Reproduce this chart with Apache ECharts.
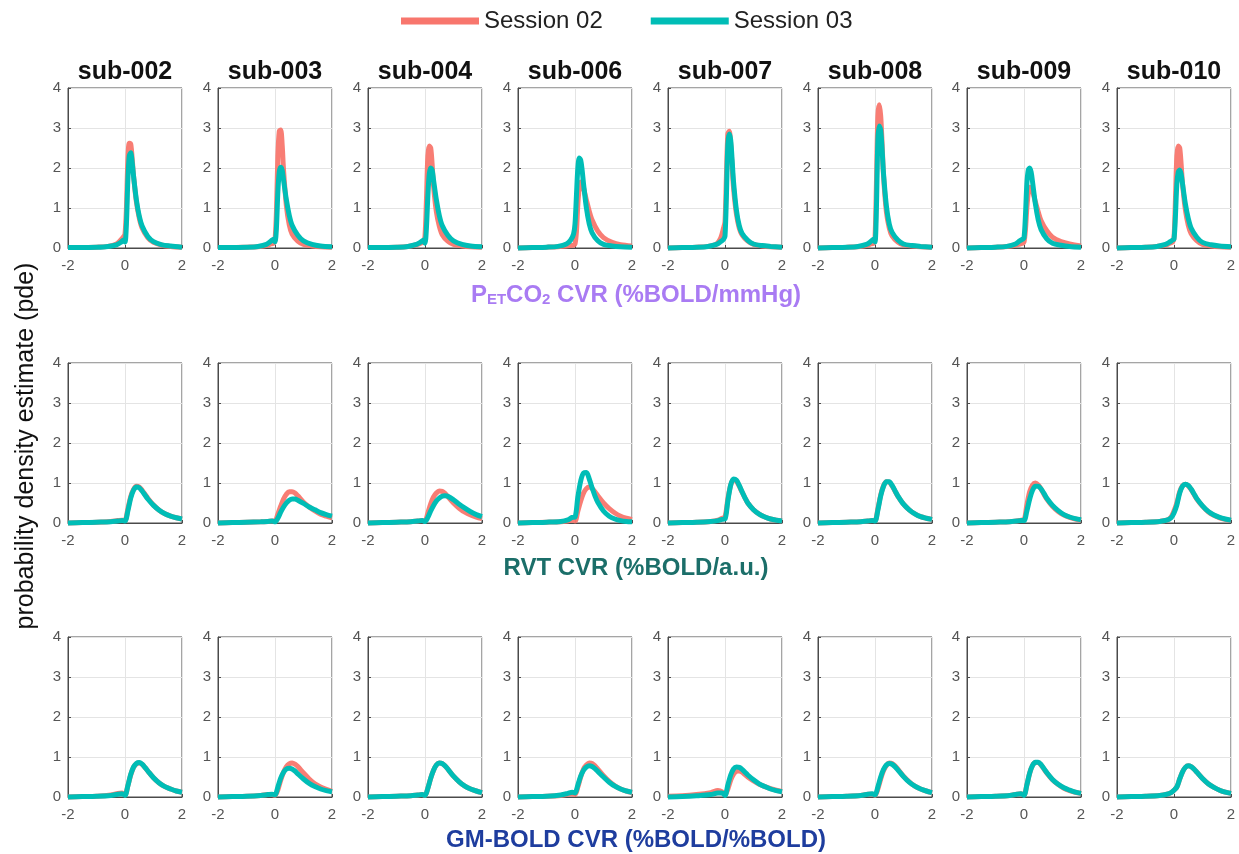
<!DOCTYPE html>
<html>
<head>
<meta charset="utf-8">
<script src="https://cdn.jsdelivr.net/npm/echarts@6/dist/echarts.min.js"></script>
<style>
  html, body { margin: 0; padding: 0; background: #fff; }
  #chart { width: 1239px; height: 854px; }
</style>
</head>
<body>
<div id="chart"></div>
<script>
// subjects (columns)
var subjects = ['sub-002', 'sub-003', 'sub-004', 'sub-006', 'sub-007', 'sub-008', 'sub-009', 'sub-010'];
var sessions = ['Session 02', 'Session 03'];
var rowLabels = ['{a|P}{s|ET}{a|CO}{s|2}{a| CVR (%BOLD/mmHg)}', 'RVT CVR (%BOLD/a.u.)', 'GM-BOLD CVR (%BOLD/%BOLD)'];
var xTicks = [-2, 0, 2];
var yTicks = [0, 1, 2, 3, 4];

// x sample points for each row
var xPet = [-2, -1.5, -1, -0.6, -0.3, -0.15, -0.05, 0, 0.05, 0.1, 0.15, 0.2, 0.25, 0.3, 0.4, 0.5, 0.6, 0.8, 1.0, 1.3, 1.6, 2];
var xWide = [-2, -1.5, -1, -0.5, -0.25, -0.1, 0, 0.1, 0.2, 0.3, 0.4, 0.5, 0.6, 0.7, 0.8, 1.0, 1.2, 1.4, 1.6, 1.8, 2];

// PETCO2 CVR densities
var pet02 = [
	[0.01,0.01,0.02,0.04,0.1,0.2,0.28,0.35,1.0,2.2,2.62,2.6,2.25,1.8,1.15,0.75,0.5,0.26,0.14,0.07,0.04,0.02],
	[0.01,0.01,0.02,0.03,0.06,0.1,0.12,0.2,0.9,2.3,2.92,2.95,2.6,1.95,1.05,0.58,0.35,0.17,0.09,0.05,0.03,0.02],
	[0.01,0.01,0.02,0.04,0.08,0.12,0.15,0.3,1.2,2.3,2.55,2.5,2.1,1.55,0.9,0.55,0.34,0.17,0.09,0.05,0.03,0.02],
	[0.0,0.01,0.02,0.03,0.05,0.06,0.07,0.1,0.4,1.1,1.5,1.65,1.6,1.5,1.2,0.92,0.7,0.42,0.26,0.14,0.08,0.05],
	[0.0,0.01,0.02,0.04,0.1,0.25,0.5,0.65,1.8,2.85,2.92,2.6,2.05,1.5,0.85,0.5,0.33,0.17,0.09,0.05,0.03,0.02],
	[0.0,0.01,0.02,0.03,0.06,0.1,0.12,0.25,1.6,3.3,3.58,3.3,2.6,1.8,0.9,0.5,0.3,0.15,0.08,0.05,0.03,0.02],
	[0.0,0.01,0.02,0.04,0.07,0.1,0.12,0.15,0.45,1.0,1.38,1.52,1.5,1.42,1.15,0.9,0.68,0.43,0.27,0.16,0.1,0.05],
	[0.0,0.01,0.02,0.04,0.07,0.12,0.15,0.25,1.2,2.3,2.55,2.5,2.1,1.6,0.95,0.57,0.36,0.18,0.09,0.05,0.03,0.02]
];
var pet03 = [
	[0.01,0.01,0.02,0.04,0.08,0.14,0.2,0.15,0.6,1.7,2.3,2.38,2.15,1.8,1.2,0.8,0.55,0.29,0.16,0.08,0.05,0.02],
	[0.01,0.01,0.02,0.04,0.09,0.17,0.22,0.15,0.5,1.4,1.9,2.02,1.95,1.7,1.2,0.82,0.57,0.32,0.18,0.09,0.05,0.03],
	[0.01,0.01,0.02,0.04,0.09,0.15,0.2,0.12,0.5,1.3,1.85,2.0,1.95,1.7,1.2,0.82,0.57,0.32,0.18,0.09,0.05,0.03],
	[0.0,0.01,0.02,0.04,0.1,0.2,0.35,0.6,1.3,2.0,2.25,2.2,1.95,1.6,1.0,0.6,0.38,0.18,0.09,0.05,0.03,0.02],
	[0.0,0.01,0.02,0.04,0.09,0.16,0.22,0.3,1.3,2.6,2.85,2.7,2.2,1.65,0.95,0.56,0.36,0.19,0.1,0.06,0.04,0.02],
	[0.0,0.01,0.02,0.04,0.09,0.16,0.22,0.15,1.0,2.7,3.05,2.95,2.45,1.85,1.05,0.6,0.39,0.2,0.1,0.06,0.04,0.02],
	[0.0,0.01,0.02,0.04,0.1,0.18,0.22,0.25,0.8,1.6,1.95,2.0,1.9,1.65,1.1,0.7,0.46,0.23,0.12,0.07,0.04,0.02],
	[0.0,0.01,0.02,0.04,0.09,0.15,0.2,0.22,0.8,1.6,1.9,1.95,1.85,1.6,1.1,0.74,0.5,0.27,0.14,0.08,0.05,0.03]
];

// RVT CVR densities
var rvt02 = [
	[0.0,0.01,0.02,0.04,0.06,0.07,0.07,0.35,0.66,0.84,0.92,0.9,0.82,0.72,0.62,0.45,0.32,0.23,0.17,0.13,0.1],
	[0.0,0.01,0.02,0.03,0.04,0.05,0.05,0.22,0.42,0.6,0.72,0.78,0.78,0.75,0.68,0.52,0.4,0.3,0.22,0.17,0.13],
	[0.0,0.01,0.02,0.03,0.05,0.06,0.05,0.25,0.48,0.65,0.75,0.8,0.79,0.74,0.66,0.5,0.37,0.27,0.2,0.15,0.11],
	[0.0,0.01,0.02,0.03,0.05,0.07,0.05,0.3,0.55,0.75,0.86,0.9,0.86,0.78,0.68,0.5,0.36,0.25,0.17,0.12,0.09],
	[0.0,0.01,0.02,0.04,0.07,0.12,0.15,0.6,0.95,1.08,1.05,0.92,0.77,0.63,0.5,0.33,0.22,0.15,0.1,0.07,0.05],
	[0.0,0.01,0.02,0.03,0.05,0.06,0.06,0.35,0.7,0.93,1.03,1.02,0.93,0.8,0.67,0.47,0.33,0.23,0.16,0.12,0.09],
	[0.0,0.01,0.02,0.03,0.05,0.07,0.08,0.45,0.78,0.95,1.0,0.95,0.85,0.72,0.6,0.42,0.29,0.2,0.14,0.1,0.07],
	[0.0,0.01,0.02,0.04,0.07,0.15,0.3,0.5,0.78,0.93,0.97,0.93,0.84,0.72,0.6,0.42,0.28,0.19,0.13,0.09,0.06]
];
var rvt03 = [
	[0.0,0.01,0.02,0.03,0.05,0.06,0.05,0.3,0.62,0.82,0.9,0.88,0.8,0.7,0.6,0.44,0.32,0.23,0.17,0.13,0.1],
	[0.0,0.01,0.02,0.03,0.04,0.05,0.03,0.12,0.27,0.4,0.5,0.57,0.6,0.6,0.57,0.49,0.4,0.33,0.26,0.21,0.17],
	[0.0,0.01,0.02,0.03,0.05,0.06,0.04,0.14,0.3,0.44,0.55,0.62,0.67,0.68,0.67,0.58,0.47,0.37,0.28,0.21,0.16],
	[0.0,0.01,0.02,0.04,0.08,0.14,0.15,0.65,1.05,1.25,1.26,1.1,0.88,0.68,0.52,0.3,0.17,0.1,0.06,0.04,0.03],
	[0.0,0.01,0.02,0.04,0.06,0.09,0.1,0.55,0.95,1.1,1.07,0.94,0.78,0.63,0.5,0.33,0.22,0.15,0.1,0.07,0.05],
	[0.0,0.01,0.02,0.03,0.05,0.06,0.05,0.32,0.68,0.92,1.03,1.03,0.94,0.81,0.68,0.47,0.33,0.23,0.16,0.12,0.09],
	[0.0,0.01,0.02,0.03,0.05,0.06,0.06,0.3,0.6,0.82,0.92,0.92,0.85,0.74,0.62,0.44,0.31,0.21,0.15,0.11,0.08],
	[0.0,0.01,0.02,0.04,0.07,0.13,0.25,0.45,0.75,0.92,0.97,0.94,0.85,0.73,0.61,0.43,0.29,0.2,0.14,0.1,0.07]
];

// GM-BOLD CVR densities
var gm02 = [
	[0.0,0.01,0.02,0.05,0.09,0.1,0.05,0.28,0.55,0.74,0.83,0.85,0.82,0.74,0.65,0.48,0.35,0.26,0.2,0.15,0.12],
	[0.0,0.01,0.02,0.04,0.06,0.06,0.04,0.18,0.42,0.62,0.76,0.83,0.85,0.82,0.76,0.6,0.45,0.33,0.25,0.19,0.14],
	[0.0,0.01,0.02,0.03,0.05,0.06,0.04,0.22,0.47,0.67,0.8,0.85,0.84,0.78,0.7,0.52,0.38,0.27,0.2,0.15,0.11],
	[0.0,0.01,0.02,0.04,0.07,0.08,0.06,0.25,0.5,0.7,0.8,0.85,0.84,0.78,0.7,0.53,0.39,0.28,0.2,0.15,0.11],
	[0.02,0.03,0.06,0.11,0.16,0.13,0.05,0.2,0.42,0.57,0.64,0.65,0.62,0.56,0.5,0.4,0.32,0.26,0.21,0.17,0.14],
	[0.0,0.01,0.02,0.04,0.07,0.07,0.04,0.2,0.45,0.66,0.79,0.85,0.84,0.78,0.7,0.52,0.38,0.27,0.2,0.15,0.11],
	[0.0,0.01,0.02,0.04,0.07,0.08,0.05,0.3,0.6,0.79,0.86,0.86,0.8,0.7,0.6,0.43,0.31,0.22,0.16,0.12,0.09],
	[0.0,0.01,0.02,0.04,0.07,0.11,0.17,0.25,0.45,0.63,0.74,0.78,0.76,0.7,0.62,0.46,0.33,0.24,0.17,0.12,0.09]
];
var gm03 = [
	[0.0,0.01,0.02,0.04,0.07,0.08,0.04,0.28,0.56,0.75,0.84,0.86,0.82,0.74,0.65,0.48,0.35,0.26,0.2,0.15,0.12],
	[0.0,0.01,0.02,0.04,0.06,0.07,0.05,0.25,0.47,0.62,0.7,0.72,0.7,0.65,0.58,0.45,0.34,0.26,0.2,0.16,0.13],
	[0.0,0.01,0.02,0.03,0.05,0.06,0.04,0.22,0.47,0.67,0.8,0.85,0.84,0.78,0.7,0.52,0.38,0.27,0.2,0.15,0.11],
	[0.0,0.01,0.02,0.05,0.09,0.12,0.1,0.3,0.52,0.67,0.75,0.78,0.76,0.71,0.64,0.5,0.37,0.27,0.2,0.15,0.12],
	[0.0,0.01,0.03,0.06,0.1,0.1,0.04,0.3,0.55,0.7,0.75,0.74,0.69,0.62,0.55,0.43,0.33,0.26,0.2,0.16,0.13],
	[0.0,0.01,0.02,0.04,0.07,0.08,0.05,0.25,0.5,0.69,0.8,0.84,0.82,0.76,0.68,0.51,0.37,0.27,0.2,0.15,0.11],
	[0.0,0.01,0.02,0.04,0.07,0.08,0.04,0.3,0.6,0.79,0.87,0.87,0.81,0.71,0.61,0.44,0.32,0.23,0.17,0.12,0.09],
	[0.0,0.01,0.02,0.04,0.07,0.11,0.17,0.25,0.45,0.63,0.74,0.78,0.76,0.7,0.62,0.46,0.33,0.24,0.17,0.12,0.09]
];

var rows = [
	{x: xPet, s02: pet02, s03: pet03},
	{x: xWide, s02: rvt02, s03: rvt03},
	{x: xWide, s02: gm02, s03: gm03}
];

var colors = ['#f8766d', '#00bdb6'];
var rowColors = ['#a97bf3', '#1b6e69', '#1e3d9e'];
var font = '"Liberation Sans", Arial, Helvetica, sans-serif';

function pairs(xs, ys) {
	var out = [];
	for (var i = 0; i < xs.length; i++) out.push([xs[i], ys[i]]);
	return out;
}

var grids = [], xAxes = [], yAxes = [], series = [], graphics = [];
var rowTop = [88, 363, 637];
var plotW = 114, plotH = 160;

for (var r = 0; r < 3; r++) {
	for (var c = 0; c < 8; c++) {
		var idx = r * 8 + c;
		var left = Math.round(68 + 149.9 * c);
		grids.push({
			left: left, top: rowTop[r], width: plotW, height: plotH,
			show: true, borderColor: '#4a4a4a', borderWidth: 1, backgroundColor: '#fff'
		});
		xAxes.push({
			type: 'value', gridIndex: idx, min: -2, max: 2, interval: 2,
			axisLine: {show: true, onZero: false, lineStyle: {color: '#4a4a4a'}},
			axisTick: {show: true, inside: true, length: 3, lineStyle: {color: '#4a4a4a'}},
			axisLabel: {color: '#555', fontSize: 15, fontFamily: font, margin: 10},
			splitLine: {show: true, lineStyle: {color: '#e4e4e4'}}
		});
		yAxes.push({
			type: 'value', gridIndex: idx, min: 0, max: 4, interval: 1,
			axisLine: {show: true, onZero: false, lineStyle: {color: '#4a4a4a'}},
			axisTick: {show: true, inside: true, length: 3, lineStyle: {color: '#4a4a4a'}},
			axisLabel: {color: '#555', fontSize: 15, fontFamily: font, margin: 7},
			splitLine: {show: true, lineStyle: {color: '#e4e4e4'}}
		});
		var row = rows[r];
		series.push({
			name: sessions[0], type: 'line', xAxisIndex: idx, yAxisIndex: idx,
			data: pairs(row.x, row.s02[c]), showSymbol: false, symbol: 'none',
			smooth: 0.3, clip: false, silent: true,
			itemStyle: {color: colors[0]},
			lineStyle: {color: colors[0], width: 5, opacity: 0.95}
		});
		series.push({
			name: sessions[1], type: 'line', xAxisIndex: idx, yAxisIndex: idx,
			data: pairs(row.x, row.s03[c]), showSymbol: false, symbol: 'none',
			smooth: 0.3, clip: false, silent: true,
			itemStyle: {color: colors[1]},
			lineStyle: {color: colors[1], width: 5}
		});
		if (r === 0) {
			graphics.push({
				type: 'text', x: left + plotW / 2, y: 72,
				style: {text: subjects[c], font: 'bold 25px ' + font, fill: '#111',
					textAlign: 'center', textVerticalAlign: 'middle'}
			});
		}
	}
}

for (var k = 0; k < 3; k++) {
	graphics.push({
		type: 'text', x: 636, y: [295, 568, 840][k],
		style: {
			text: rowLabels[k], textAlign: 'center', textVerticalAlign: 'middle',
			font: 'bold 24px ' + font, fill: rowColors[k],
			rich: {
				a: {fontSize: 24, fontWeight: 'bold', fontFamily: font, color: rowColors[k]},
				s: {fontSize: 15, fontWeight: 'bold', fontFamily: font, color: rowColors[k], verticalAlign: 'bottom', padding: [10, 0, 0, 0]}
			}
		}
	});
}

graphics.push({
	type: 'text', x: 26, y: 446, rotation: Math.PI / 2,
	style: {text: 'probability density estimate (pde)', font: '25px ' + font, fill: '#111',
		textAlign: 'center', textVerticalAlign: 'middle'}
});

var chart = echarts.init(document.getElementById('chart'));
chart.setOption({
	backgroundColor: '#fff',
	animation: false,
	legend: {
		data: sessions, top: 4, left: 396, icon: 'rect',
		itemWidth: 78, itemHeight: 7, itemGap: 48,
		textStyle: {fontSize: 24, color: '#222', fontFamily: font}
	},
	grid: grids,
	xAxis: xAxes,
	yAxis: yAxes,
	series: series,
	graphic: graphics
});
</script>
</body>
</html>
